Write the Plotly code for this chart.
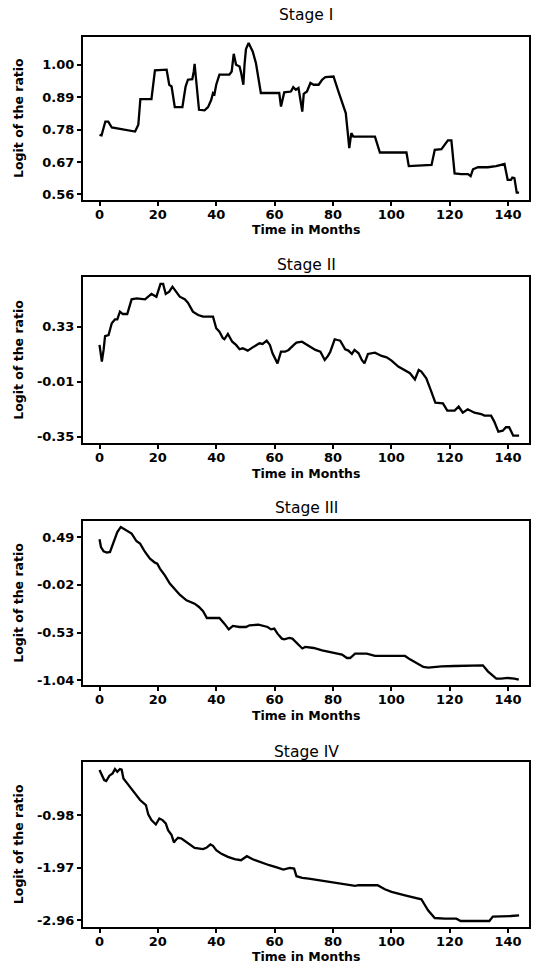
import plotly.graph_objects as go

# ---------------- data ----------------
STAGES = ["Stage I", "Stage II", "Stage III", "Stage IV"]

MONTHS_I = [0, 0.7, 2, 3, 4.2, 11.6, 12.2, 13.3, 14, 17.8, 19, 23, 23.9, 24.7, 25.8, 28.4,
            29.5, 30.3, 31.8, 32.3, 32.6, 33, 34.1, 36, 37.2, 38.3, 38.9, 39.4, 40, 41.1,
            44.5, 45.3, 46, 46.8, 48, 48.5, 49.3, 49.7, 50.2, 51.1, 52.5, 53.6, 55.3, 61.6,
            62.2, 63.3, 65.6, 66.4, 67.3, 68.2, 69, 69.5, 70, 71.1, 72.3, 73.4, 75.1, 76.3,
            77.4, 80.2, 81.9, 83.6, 84.4, 85.1, 85.6, 86.3, 87, 94.4, 96.1, 105.2, 106,
            113.8, 114.9, 117.2, 119.4, 120.6, 121.7, 124, 126.3, 127.2, 128, 129.7, 133.1,
            135.9, 138.8, 139.9, 141, 141.5, 142.2, 143, 143.8]
LOGIT_I = [0.762, 0.760, 0.807, 0.807, 0.787, 0.773, 0.773, 0.796, 0.883, 0.883, 0.981, 0.983,
           0.932, 0.926, 0.856, 0.856, 0.926, 0.949, 0.951, 0.977, 1.003, 0.960, 0.847, 0.845,
           0.856, 0.881, 0.904, 0.900, 0.932, 0.966, 0.966, 0.977, 1.037, 1.000, 0.994, 0.974,
           0.932, 1.000, 1.053, 1.074, 1.045, 1.006, 0.904, 0.904, 0.858, 0.906, 0.909, 0.924,
           0.915, 0.921, 0.875, 0.841, 0.901, 0.909, 0.938, 0.932, 0.932, 0.949, 0.958, 0.960,
           0.909, 0.858, 0.836, 0.768, 0.717, 0.768, 0.756, 0.756, 0.702, 0.702, 0.656, 0.660,
           0.711, 0.713, 0.743, 0.743, 0.631, 0.629, 0.629, 0.622, 0.645, 0.652, 0.652, 0.656,
           0.663, 0.609, 0.609, 0.617, 0.615, 0.566, 0.566]

MONTHS_II = [0, 0.8, 1.4, 1.9, 3.1, 4.2, 5.3, 6.1, 7, 8, 9.5, 11, 12.7, 15.6, 17.8, 19.5, 20.9,
             21.8, 22.7, 23.9, 25, 26.4, 27.5, 29.2, 30.3, 32, 33.8, 35.5, 38.9, 40, 41.1,
             42.3, 42.8, 44, 45.5, 46.8, 48, 49.1, 50.8, 52.5, 54.8, 55.9, 57.3, 58.4, 59.3,
             61, 62.2, 63.6, 64.8, 66.6, 67.5, 69.4, 71.7, 74, 75.7, 77.2, 78.3, 79.1, 80.6,
             82.5, 84.2, 85.3, 86.5, 87.4, 88.8, 89.9, 90.8, 92, 94.4, 96.7, 98.4, 100.1, 102.4,
             104.7, 106.4, 108.1, 109.4, 110.3, 112, 113.5, 115.1, 117.7, 119.2, 121.7, 123.1,
             124.5, 126.2, 128.5, 130.8, 131.9, 134.2, 135.3, 136.7, 138.2, 139.3, 140.4,
             141.2, 141.8, 143.8]
LOGIT_II = [0.217, 0.114, 0.186, 0.272, 0.278, 0.351, 0.375, 0.375, 0.423, 0.408, 0.408, 0.499,
            0.505, 0.499, 0.532, 0.515, 0.594, 0.594, 0.532, 0.546, 0.577, 0.540, 0.515, 0.499,
            0.478, 0.423, 0.402, 0.392, 0.392, 0.320, 0.299, 0.258, 0.252, 0.285, 0.237, 0.217,
            0.190, 0.196, 0.182, 0.202, 0.227, 0.223, 0.243, 0.217, 0.165, 0.103, 0.175, 0.175,
            0.186, 0.217, 0.231, 0.237, 0.210, 0.186, 0.175, 0.124, 0.149, 0.175, 0.252, 0.243,
            0.190, 0.182, 0.161, 0.186, 0.165, 0.124, 0.103, 0.161, 0.169, 0.149, 0.140, 0.120,
            0.083, 0.058, 0.042, 0.004, 0.062, 0.052, 0.011, -0.061, -0.140, -0.144, -0.189,
            -0.189, -0.164, -0.202, -0.181, -0.202, -0.210, -0.220, -0.220, -0.257, -0.319,
            -0.313, -0.292, -0.292, -0.319, -0.344, -0.344]

MONTHS_III = [0, 0.5, 1.4, 2.5, 3.6, 4.8, 6.1, 7.3, 8.2, 9.5, 11, 12.7, 13.9, 15.6, 17.3, 19,
              19.8, 20.7, 22.4, 24.1, 25.8, 27.5, 29.8, 31.1, 32.6, 34.1, 35.5, 36.8, 41.1,
              42.8, 44.3, 45.7, 48, 50.2, 51.4, 54.5, 56.1, 57.6, 58.8, 59.9, 61, 62.5, 63.3,
              65, 66.1, 67.8, 69.5, 70.5, 73.4, 76.3, 79.7, 83.1, 84.8, 85.9, 87.6, 91.6, 94.4,
              104.7, 106.4, 108.1, 111, 112.7, 117.2, 121.7, 126.3, 131.4, 133.1, 136, 137.6,
              139.9, 142.2, 143.7]
LOGIT_III = [0.465, 0.383, 0.337, 0.323, 0.330, 0.437, 0.543, 0.597, 0.579, 0.550, 0.526, 0.444,
             0.419, 0.330, 0.259, 0.216, 0.205, 0.152, 0.081, -0.008, -0.072, -0.126, -0.186,
             -0.204, -0.222, -0.257, -0.303, -0.375, -0.375, -0.435, -0.496, -0.460, -0.471,
             -0.471, -0.453, -0.446, -0.460, -0.471, -0.496, -0.488, -0.542, -0.595, -0.602,
             -0.588, -0.595, -0.650, -0.700, -0.684, -0.695, -0.720, -0.745, -0.766, -0.802,
             -0.802, -0.756, -0.756, -0.780, -0.780, -0.816, -0.844, -0.898, -0.905, -0.891,
             -0.887, -0.880, -0.880, -0.944, -1.022, -1.022, -1.015, -1.022, -1.033]

MONTHS_IV = [0, 0.8, 1.6, 2.3, 3.4, 4.5, 5.3, 6.1, 7, 7.6, 8.2, 9.5, 11.6, 13.9, 15.9, 16.7,
             17.8, 19.3, 20.5, 21.6, 22.7, 23.5, 24.7, 25.5, 26.1, 26.9, 28.1, 30.3, 32.6, 35.5,
             36.6, 38, 38.9, 40, 41.8, 44, 46.3, 48.5, 50.5, 52.5, 54.8, 58.2, 61, 63, 65.2,
             66.7, 67.5, 69.5, 71.7, 78.5, 83.1, 87.6, 88.8, 95.3, 97.8, 100.1, 104.7, 110.3,
             112.6, 114.9, 118.3, 122.3, 123.8, 128.5, 133.6, 134.8, 137.6, 141, 143.8]
LOGIT_IV = [-0.131, -0.238, -0.320, -0.339, -0.238, -0.194, -0.113, -0.163, -0.113, -0.125,
            -0.289, -0.383, -0.540, -0.697, -0.791, -0.967, -1.074, -1.156, -1.043, -1.074,
            -1.137, -1.263, -1.357, -1.495, -1.451, -1.407, -1.420, -1.514, -1.596, -1.621,
            -1.596, -1.533, -1.558, -1.640, -1.709, -1.766, -1.810, -1.829, -1.753, -1.810,
            -1.860, -1.923, -1.967, -2.005, -1.973, -1.986, -2.130, -2.162, -2.174, -2.237,
            -2.269, -2.313, -2.300, -2.300, -2.376, -2.426, -2.489, -2.564, -2.772, -2.917,
            -2.929, -2.929, -2.973, -2.979, -2.973, -2.891, -2.891, -2.879, -2.866]

YTICKS_I = [0.56, 0.67, 0.78, 0.89, 1.00]
YTICKS_II = [-0.35, -0.01, 0.33]
YTICKS_III = [-1.04, -0.53, -0.02, 0.49]
YTICKS_IV = [-2.96, -1.97, -0.98]
XTICKS = [0, 20, 40, 60, 80, 100, 120, 140]

X_TITLE = "Time in Months"
Y_TITLE = "Logit of the ratio"

# ---------------- layout / styling ----------------
MONTHS = [MONTHS_I, MONTHS_II, MONTHS_III, MONTHS_IV]
LOGITS = [LOGIT_I, LOGIT_II, LOGIT_III, LOGIT_IV]
YTICKS = [YTICKS_I, YTICKS_II, YTICKS_III, YTICKS_IV]
YRANGES = [[0.541, 1.094], [-0.391, 0.635], [-1.093, 0.657], [-3.086, 0.013]]
DOMAINS = [[0.8169, 1.0], [0.5435, 0.730], [0.2716, 0.4558], [0.0, 0.185]]
TITLE_SHIFT = [22, 12, 13, 10]
XRANGE = [-5.66, 147.2]

FONT = "DejaVu Sans"
fig = go.Figure()
annotations = []
for i in range(4):
    xa = "x" if i == 0 else f"x{i+1}"
    ya = "y" if i == 0 else f"y{i+1}"
    fig.add_trace(go.Scatter(x=MONTHS[i], y=LOGITS[i], mode="lines",
                             line=dict(color="black", width=2.3),
                             xaxis=xa, yaxis=ya, showlegend=False, hoverinfo="skip"))
    axis_common = dict(showgrid=False, zeroline=False, showline=True, mirror=True,
                       linecolor="black", linewidth=2, ticks="outside", ticklen=4,
                       tickwidth=1.5, tickcolor="black",
                       tickfont=dict(family=FONT, size=13, color="black", weight="bold"))
    xkey = "xaxis" if i == 0 else f"xaxis{i+1}"
    ykey = "yaxis" if i == 0 else f"yaxis{i+1}"
    fig.update_layout({
        xkey: dict(domain=[0, 1], anchor=ya, range=XRANGE, tickvals=XTICKS,
                   ticktext=[str(v) for v in XTICKS], ticklabelstandoff=-3, **axis_common),
        ykey: dict(domain=DOMAINS[i], anchor=xa, range=YRANGES[i], tickvals=YTICKS[i],
                   ticktext=[f"{v:.2f}" for v in YTICKS[i]], **axis_common),
    })
    annotations.append(dict(text=STAGES[i], xref=f"{xa} domain", yref=f"{ya} domain",
                            x=0.5, y=1, yshift=TITLE_SHIFT[i], xanchor="center",
                            yanchor="middle", showarrow=False,
                            font=dict(family=FONT, size=15.5, color="black")))
    annotations.append(dict(text=Y_TITLE, xref=f"{xa} domain", yref=f"{ya} domain",
                            x=0, xshift=-64.5, y=0.5, xanchor="center", yanchor="middle",
                            textangle=-90, showarrow=False,
                            font=dict(family=FONT, size=12.5, color="black", weight="bold")))
    annotations.append(dict(text=X_TITLE, xref=f"{xa} domain", yref=f"{ya} domain",
                            x=0.5, y=0, yshift=-30, xanchor="center", yanchor="middle",
                            showarrow=False,
                            font=dict(family=FONT, size=12.5, color="black", weight="bold")))

fig.update_layout(width=538, height=969, margin=dict(l=83, r=7, t=37, b=42),
                  plot_bgcolor="white", paper_bgcolor="white", showlegend=False,
                  annotations=annotations)

fig.write_html("out.html")
